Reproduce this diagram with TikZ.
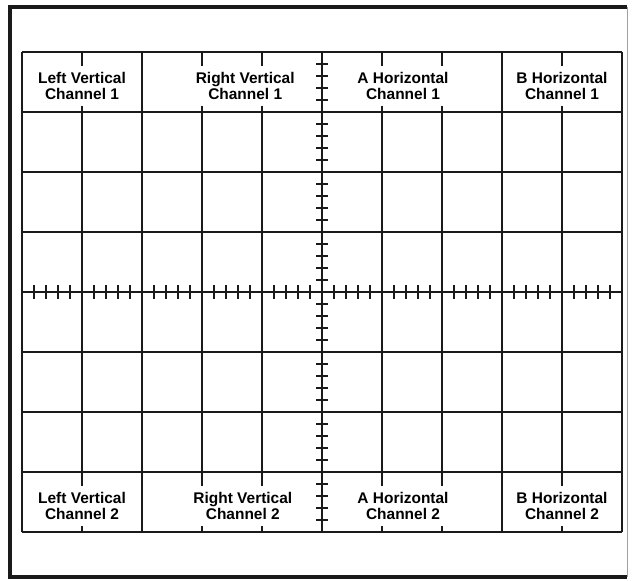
\documentclass[tikz,border=0pt]{standalone}
\usepackage{fontspec}
\setmainfont{Liberation Sans}
\usepackage{xcolor}
\usepackage{tikz}
\definecolor{grInk}{HTML}{1A1A1A}
\definecolor{grFaint}{HTML}{A0A0A0}

\begin{document}
\begin{tikzpicture}[x=1.8cm,y=1.8cm,
    gridline/.style={grInk,line width=1.1pt},
    tickmark/.style={grInk,line width=1.4pt},
    chlabel/.style={fill=white,align=center,inner xsep=1pt,inner ysep=0pt,
      minimum height=1.2cm,font=\fontsize{13.2}{13.8}\selectfont\bfseries}]
  \useasboundingbox (-0.3667,-0.8) rectangle (10.1833,8.8667);
  % cadre
  \draw[grInk,line width=3.6pt] (10.083,8.75) -- (-0.2,8.75) -- (-0.2,-0.75) -- (10.083,-0.75);
  \draw[grFaint,line width=0.8pt] (10.083,8.75) -- (10.083,-0.75);
  % graticule
  \draw[gridline,step=1] (0,0) grid (10,8);
  % canal 1
  \node[chlabel] (lv1) at (1.0,7.44) {Left Vertical\\Channel 1};
  \node[chlabel] (rv1) at (3.72,7.44) {Right Vertical\\Channel 1};
  \node[chlabel] (ah1) at (6.35,7.44) {A Horizontal\\Channel 1};
  \node[chlabel] (bh1) at (9.0,7.44) {B Horizontal\\Channel 1};
  % canal 2
  \node[chlabel] (lv2) at (1.0,0.44) {Left Vertical\\Channel 2};
  \node[chlabel] (rv2) at (3.68,0.44) {Right Vertical\\Channel 2};
  \node[chlabel] (ah2) at (6.35,0.44) {A Horizontal\\Channel 2};
  \node[chlabel] (bh2) at (9.0,0.44) {B Horizontal\\Channel 2};
  % graduations des axes centraux
  \foreach \d in {0,...,7} {\foreach \k in {1,...,4} {\draw[tickmark] (4.9,\d+\k/5) -- (5.1,\d+\k/5);}}
  \foreach \d in {0,...,9} {\foreach \k in {1,...,4} {\draw[tickmark] (\d+\k/5,3.89) -- (\d+\k/5,4.11);}}
\end{tikzpicture}
\end{document}
